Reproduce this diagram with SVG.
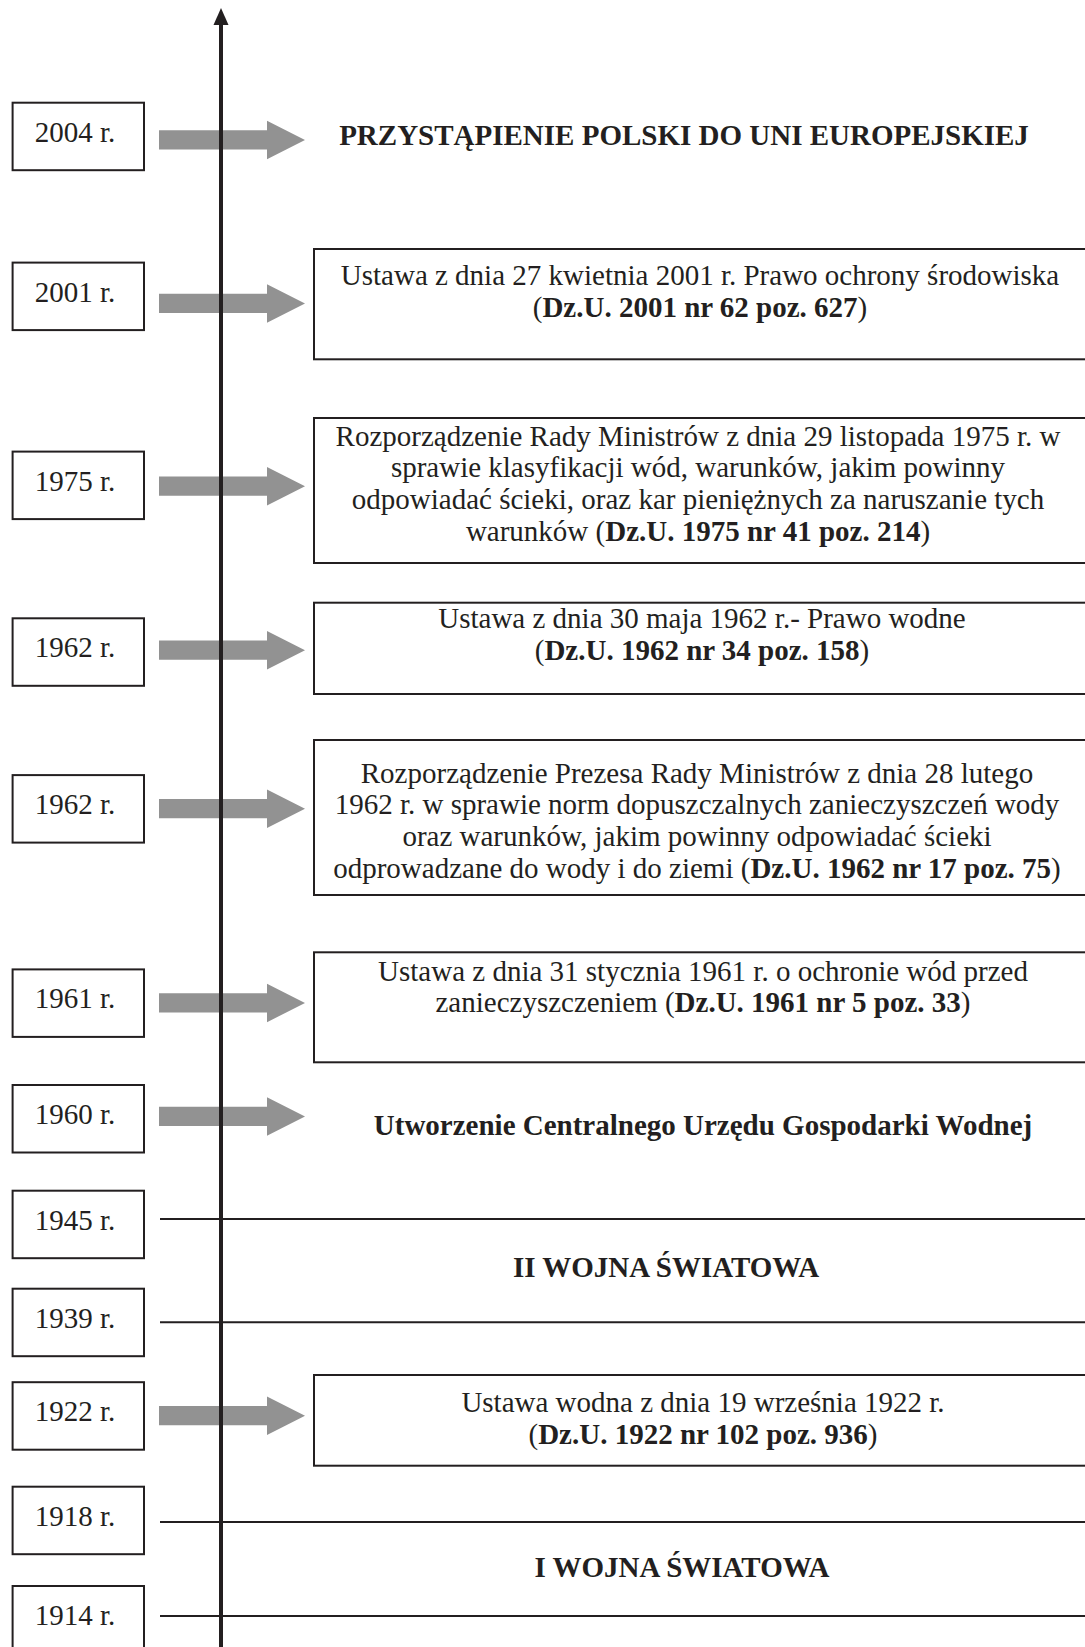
<svg xmlns="http://www.w3.org/2000/svg" width="1085" height="1647" viewBox="0 0 1085 1647">
<style>
.yb{fill:#fff;stroke:#231f20;stroke-width:2}
.cb{fill:#fff;stroke:#231f20;stroke-width:2}
.t{font-family:"Liberation Serif","Times New Roman",serif;font-size:29px;fill:#231f20}
.y{text-anchor:middle}
.c{text-anchor:middle}
.b{font-weight:bold}
.ga{fill:#929292}
.hl{stroke:#231f20;stroke-width:2;fill:none}
</style>
<defs>
<path id="garrow" d="M159,-9.7 H267 V-19.2 L305,0 L267,19.2 V9.5 H159 Z"/>
</defs>
<rect width="1085" height="1647" fill="#fff"/>

<g id="connectors">
<use href="#garrow" class="ga" transform="translate(0,140)"/>
<use href="#garrow" class="ga" transform="translate(0,303.5)"/>
<use href="#garrow" class="ga" transform="translate(0,486.3)"/>
<use href="#garrow" class="ga" transform="translate(0,650.3)"/>
<use href="#garrow" class="ga" transform="translate(0,808.7)"/>
<use href="#garrow" class="ga" transform="translate(0,1003)"/>
<use href="#garrow" class="ga" transform="translate(0,1116.5)"/>
<use href="#garrow" class="ga" transform="translate(0,1415.8)"/>
<line class="hl" x1="160" y1="1219" x2="1085" y2="1219"/>
<line class="hl" x1="160" y1="1322.3" x2="1085" y2="1322.3"/>
<line class="hl" x1="160" y1="1522" x2="1085" y2="1522"/>
<line class="hl" x1="160" y1="1616" x2="1085" y2="1616"/>
<line x1="221" y1="22" x2="221" y2="1647" stroke="#231f20" stroke-width="4"/>
<polygon points="221,8 213.5,25 228.5,25" fill="#231f20"/>
</g>

<g id="y2004"><rect class="yb" x="12.6" y="102.7" width="131.4" height="67.5"/><text class="t y" x="75" y="141.7">2004 r.</text></g>
<g id="y2001"><rect class="yb" x="12.6" y="262.6" width="131.4" height="67.5"/><text class="t y" x="75" y="301.6">2001 r.</text></g>
<g id="y1975"><rect class="yb" x="12.6" y="451.6" width="131.4" height="67.5"/><text class="t y" x="75" y="490.6">1975 r.</text></g>
<g id="y1962a"><rect class="yb" x="12.6" y="618.3" width="131.4" height="67.5"/><text class="t y" x="75" y="657.3">1962 r.</text></g>
<g id="y1962b"><rect class="yb" x="12.6" y="775.1" width="131.4" height="67.5"/><text class="t y" x="75" y="814.1">1962 r.</text></g>
<g id="y1961"><rect class="yb" x="12.6" y="969.4" width="131.4" height="67.5"/><text class="t y" x="75" y="1008.4">1961 r.</text></g>
<g id="y1960"><rect class="yb" x="12.6" y="1085" width="131.4" height="67.5"/><text class="t y" x="75" y="1124">1960 r.</text></g>
<g id="y1945"><rect class="yb" x="12.6" y="1190.7" width="131.4" height="67.5"/><text class="t y" x="75" y="1229.5">1945 r.</text></g>
<g id="y1939"><rect class="yb" x="12.6" y="1288.7" width="131.4" height="67.5"/><text class="t y" x="75" y="1328">1939 r.</text></g>
<g id="y1922"><rect class="yb" x="12.6" y="1382.2" width="131.4" height="67.5"/><text class="t y" x="75" y="1421.2">1922 r.</text></g>
<g id="y1918"><rect class="yb" x="12.6" y="1486.7" width="131.4" height="67.5"/><text class="t y" x="75" y="1525.7">1918 r.</text></g>
<g id="y1914"><rect class="yb" x="12.6" y="1586" width="131.4" height="67.5"/><text class="t y" x="75" y="1625">1914 r.</text></g>

<g id="e2004"><text class="t c b" x="684" y="145">PRZYSTĄPIENIE POLSKI DO UNI EUROPEJSKIEJ</text></g>

<g id="e2001"><rect class="cb" x="314" y="249" width="780" height="110.3"/>
<text class="t c" x="700" y="285">Ustawa z dnia 27 kwietnia 2001 r. Prawo ochrony środowiska</text>
<text class="t c" x="700" y="316.7">(<tspan class="b">Dz.U. 2001 nr 62 poz. 627</tspan>)</text></g>

<g id="e1975"><rect class="cb" x="314" y="418" width="780" height="145"/>
<text class="t c" x="698" y="445.7">Rozporządzenie Rady Ministrów z dnia 29 listopada 1975 r. w</text>
<text class="t c" x="698" y="477.3">sprawie klasyfikacji wód, warunków, jakim powinny</text>
<text class="t c" x="698" y="509">odpowiadać ścieki, oraz kar pieniężnych za naruszanie tych</text>
<text class="t c" x="698" y="540.7">warunków (<tspan class="b">Dz.U. 1975 nr 41 poz. 214</tspan>)</text></g>

<g id="e1962a"><rect class="cb" x="314" y="602.7" width="780" height="91.3"/>
<text class="t c" x="702" y="628.3">Ustawa z dnia 30 maja 1962 r.- Prawo wodne</text>
<text class="t c" x="702" y="660">(<tspan class="b">Dz.U. 1962 nr 34 poz. 158</tspan>)</text></g>

<g id="e1962b"><rect class="cb" x="314" y="740" width="780" height="155"/>
<text class="t c" x="697" y="782.7">Rozporządzenie Prezesa Rady Ministrów z dnia 28 lutego</text>
<text class="t c" x="697" y="814.4">1962 r. w sprawie norm dopuszczalnych zanieczyszczeń wody</text>
<text class="t c" x="697" y="846.1">oraz warunków, jakim powinny odpowiadać ścieki</text>
<text class="t c" x="697" y="877.8">odprowadzane do wody i do ziemi (<tspan class="b">Dz.U. 1962 nr 17 poz. 75</tspan>)</text></g>

<g id="e1961"><rect class="cb" x="314" y="952.3" width="780" height="110"/>
<text class="t c" x="703" y="980.7">Ustawa z dnia 31 stycznia 1961 r. o ochronie wód przed</text>
<text class="t c" x="703" y="1012.3">zanieczyszczeniem (<tspan class="b">Dz.U. 1961 nr 5 poz. 33</tspan>)</text></g>

<g id="e1960"><text class="t c b" x="703" y="1135">Utworzenie Centralnego Urzędu Gospodarki Wodnej</text></g>

<g id="e1945"><text class="t c b" x="666" y="1276.7">II WOJNA ŚWIATOWA</text></g>

<g id="e1922"><rect class="cb" x="314" y="1375" width="780" height="90.7"/>
<text class="t c" x="703" y="1412.3">Ustawa wodna z dnia 19 września 1922 r.</text>
<text class="t c" x="703" y="1444">(<tspan class="b">Dz.U. 1922 nr 102 poz. 936</tspan>)</text></g>

<g id="e1918"><text class="t c b" x="682" y="1576.7">I WOJNA ŚWIATOWA</text></g>
</svg>
